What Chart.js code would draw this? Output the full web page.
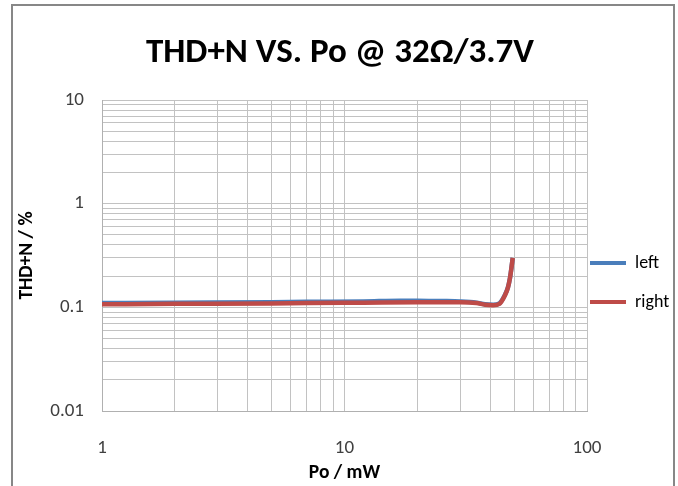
<!DOCTYPE html>
<html>
<head>
<meta charset="utf-8">
<script src="https://cdn.jsdelivr.net/npm/chart.js@4/dist/chart.umd.min.js"></script>
<style>
  body { margin: 0; background: #fff; overflow: hidden; }
  #wrap { position: relative; width: 678px; height: 486px; }
  #frame { position: absolute; left: 11px; top: 4px; width: 660px; height: 520px; border: 2px solid #878787; pointer-events: none; }
</style>
</head>
<body>
<div id="wrap">
  <canvas id="myChart" width="678" height="486"></canvas>
  <div id="frame"></div>
</div>
<script>
// Po in mW, THD+N in %
var powerLeft = [1, 2, 5, 7, 12, 17, 20, 25, 30, 35, 38, 41, 43.5, 45.9, 47.2, 48.1, 48.8, 49.4];
var thdLeft = [0.110, 0.111, 0.112, 0.113, 0.114, 0.116, 0.116, 0.115, 0.114, 0.111, 0.107, 0.106, 0.109, 0.132, 0.156, 0.19, 0.24, 0.30];
var powerRight = [1, 2, 5, 7, 12, 20, 30, 35, 38, 41, 43.5, 45.9, 47.2, 48.1, 48.8, 49.4];
var thdRight = [0.107, 0.108, 0.109, 0.110, 0.111, 0.112, 0.112, 0.110, 0.106, 0.105, 0.108, 0.131, 0.155, 0.19, 0.24, 0.30];

var xDecades = [1, 10, 100];
var yDecades = [0.01, 0.1, 1, 10];
var minorSteps = [1, 2, 3, 4, 5, 6, 7, 8, 9];

var font = 'Carlito, "Liberation Sans Narrow", "Open Sans", sans-serif';

function points(xs, ys) {
    return xs.map(function (x, i) { return { x: x, y: ys[i] }; });
}

function gridTicks(decades) {
    var out = [];
    for (var i = 0; i < decades.length - 1; i++) {
        minorSteps.forEach(function (m) { out.push({ value: +(decades[i] * m).toPrecision(6) }); });
    }
    out.push({ value: decades[decades.length - 1] });
    return out;
}

function decadeLabel(decades) {
    return function (v) {
        return decades.indexOf(+v.toPrecision(6)) >= 0 ? String(v) : '';
    };
}

// legend sits just right of the plot, title centred on the frame
var placeBoxes = {
    id: 'placeBoxes',
    afterLayout: function (chart) {
        var lg = chart.legend;
        var pad = lg.options.labels.padding;
        var dy = 254 - pad - lg.top;
        lg.left = chart.chartArea.right + 3 - pad;
        lg.right = chart.width;
        lg.width = lg.right - lg.left;
        lg.top += dy; lg.bottom += dy;
        chart.titleBlock.left = 2;
        chart.titleBlock.right = 678;
    }
};

var ctx = document.getElementById('myChart');
var myChart = new Chart(ctx, {
    type: 'line',
    data: {
        datasets: [{
            label: 'right',
            data: points(powerRight, thdRight),
            borderColor: '#be4b48',
            backgroundColor: '#be4b48',
            borderWidth: 4.5,
            pointRadius: 0,
            cubicInterpolationMode: 'monotone'
        }, {
            label: 'left',
            data: points(powerLeft, thdLeft),
            borderColor: '#4a7ebb',
            backgroundColor: '#4a7ebb',
            borderWidth: 4.5,
            pointRadius: 0,
            cubicInterpolationMode: 'monotone'
        }]
    },
    plugins: [placeBoxes],
    options: {
        responsive: false,
        animation: false,
        layout: { padding: { left: 0, right: 0, top: 0, bottom: 0 } },
        scales: {
            x: {
                type: 'logarithmic',
                min: 1,
                max: 100,
                afterBuildTicks: function (scale) { scale.ticks = gridTicks(xDecades); },
                afterFit: function (scale) { scale.height = 75; },
                grid: { color: '#c2c2c2', drawTicks: false },
                border: { color: '#b0b0b0' },
                ticks: {
                    autoSkip: false,
                    maxRotation: 0,
                    padding: 26,
                    color: '#404040',
                    font: { family: font, size: 19 },
                    callback: decadeLabel(xDecades)
                },
                title: {
                    display: true,
                    text: 'Po / mW',
                    color: '#000',
                    padding: { top: 0, bottom: 1 },
                    font: { family: font, size: 19.5, weight: 'bold' }
                }
            },
            y: {
                type: 'logarithmic',
                min: 0.01,
                max: 10,
                afterBuildTicks: function (scale) { scale.ticks = gridTicks(yDecades); },
                afterFit: function (scale) { scale.width = 102; },
                grid: { color: '#c2c2c2', drawTicks: false },
                border: { color: '#b0b0b0' },
                ticks: {
                    autoSkip: false,
                    padding: 18,
                    color: '#404040',
                    font: { family: font, size: 19 },
                    callback: decadeLabel(yDecades)
                },
                title: {
                    display: true,
                    text: 'THD+N / %',
                    color: '#000',
                    padding: { top: 15, bottom: 0 },
                    font: { family: font, size: 19.5, weight: 'bold' }
                }
            }
        },
        plugins: {
            title: {
                display: true,
                text: 'THD+N VS. Po @ 32Ω/3.7V',
                color: '#000',
                padding: { top: 32, bottom: 26 },
                font: { family: font, size: 35, weight: 'bold' }
            },
            legend: {
                display: true,
                position: 'right',
                align: 'start',
                reverse: true,
                maxWidth: 91,
                labels: {
                    boxWidth: 36,
                    boxHeight: 4,
                    padding: 21,
                    color: '#000',
                    font: { family: font, size: 18 },
                    generateLabels: function (chart) {
                        return Chart.defaults.plugins.legend.labels.generateLabels(chart).map(function (l) {
                            l.lineWidth = 0;
                            return l;
                        });
                    }
                }
            },
            tooltip: { enabled: false }
        }
    }
});
</script>
</body>
</html>
